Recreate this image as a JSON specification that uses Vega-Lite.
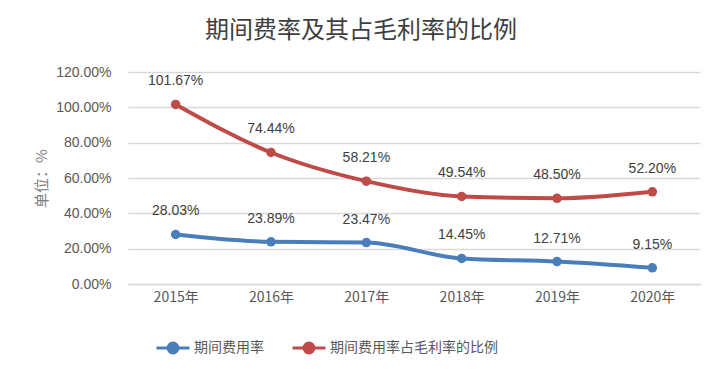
{
  "$schema": "https://vega.github.io/schema/vega-lite/v6.json",
  "width": 572,
  "height": 212,
  "autosize": {"type": "none"},
  "padding": {"left": 128, "top": 72, "right": 20, "bottom": 88},
  "background": "white",
  "title": {
    "text": "期间费率及其占毛利率的比例",
    "font": "Noto Sans CJK SC",
    "fontSize": 24,
    "fontWeight": "normal",
    "color": "#404040",
    "anchor": "middle",
    "dx": -53,
    "offset": 22
  },
  "data": {
    "values": [
      {"year": "2015年", "series": "期间费用率", "value": 0.2803},
      {"year": "2016年", "series": "期间费用率", "value": 0.2389},
      {"year": "2017年", "series": "期间费用率", "value": 0.2347},
      {"year": "2018年", "series": "期间费用率", "value": 0.1445},
      {"year": "2019年", "series": "期间费用率", "value": 0.1271},
      {"year": "2020年", "series": "期间费用率", "value": 0.0915},
      {"year": "2015年", "series": "期间费用率占毛利率的比例", "value": 1.0167},
      {"year": "2016年", "series": "期间费用率占毛利率的比例", "value": 0.7444},
      {"year": "2017年", "series": "期间费用率占毛利率的比例", "value": 0.5821},
      {"year": "2018年", "series": "期间费用率占毛利率的比例", "value": 0.4954},
      {"year": "2019年", "series": "期间费用率占毛利率的比例", "value": 0.4850},
      {"year": "2020年", "series": "期间费用率占毛利率的比例", "value": 0.5220}
    ]
  },
  "encoding": {
    "x": {
      "field": "year",
      "type": "ordinal",
      "scale": {"type": "point", "padding": 0.5},
      "axis": {
        "title": null,
        "labelAngle": 0,
        "labelFont": "Noto Sans CJK SC",
        "labelFontSize": 14,
        "labelColor": "#595959",
        "labelPadding": 6,
        "ticks": false,
        "domain": true,
        "domainColor": "#d9d9d9",
        "domainWidth": 1.5
      }
    },
    "y": {
      "field": "value",
      "type": "quantitative",
      "scale": {"domain": [0, 1.2]},
      "axis": {
        "values": [0, 0.2, 0.4, 0.6, 0.8, 1.0, 1.2],
        "format": ".2%",
        "title": "单位：%",
        "titleFont": "Noto Sans CJK SC",
        "titleFontSize": 15,
        "titleFontWeight": "normal",
        "titleColor": "#808080",
        "titlePadding": 6,
        "labelFont": "Liberation Sans",
        "labelFontSize": 14,
        "labelColor": "#595959",
        "labelPadding": 17,
        "ticks": false,
        "domain": false,
        "grid": true,
        "gridColor": "#d9d9d9",
        "gridWidth": 1.5
      }
    },
    "color": {
      "field": "series",
      "type": "nominal",
      "scale": {
        "domain": ["期间费用率", "期间费用率占毛利率的比例"],
        "range": ["#4a7ebb", "#be4b48"]
      }
    }
  },
  "layer": [
    {
      "mark": {"type": "line", "strokeWidth": 4, "interpolate": "monotone"},
      "encoding": {
        "color": {
          "field": "series",
          "type": "nominal",
          "legend": {
            "orient": "none",
            "direction": "horizontal",
            "legendX": 27,
            "legendY": 258,
            "title": null,
            "symbolType": "M-1,0L1,0M-0.3,0A0.3,0.3 0 1,0 0.3,0A0.3,0.3 0 1,0 -0.3,0Z",
            "symbolSize": 1089,
            "symbolStrokeWidth": 3,
            "labelFont": "Noto Sans CJK SC",
            "labelFontSize": 14,
            "labelColor": "#595959",
            "labelOffset": 3,
            "labelLimit": 400,
            "columnPadding": 22,
            "encode": {
              "symbols": {
                "update": {
                  "fill": {"scale": "color", "field": "value"},
                  "stroke": {"scale": "color", "field": "value"}
                }
              }
            }
          }
        }
      }
    },
    {
      "mark": {"type": "point", "filled": true, "size": 90, "opacity": 1},
      "encoding": {
        "color": {"field": "series", "type": "nominal", "legend": null}
      }
    },
    {
      "mark": {
        "type": "text",
        "dy": -23,
        "font": "Liberation Sans",
        "fontSize": 14,
        "color": "#404040"
      },
      "encoding": {
        "text": {"field": "value", "type": "quantitative", "format": ".2%"},
        "color": {"value": "#404040"}
      }
    }
  ],
  "config": {
    "view": {"stroke": null}
  }
}
